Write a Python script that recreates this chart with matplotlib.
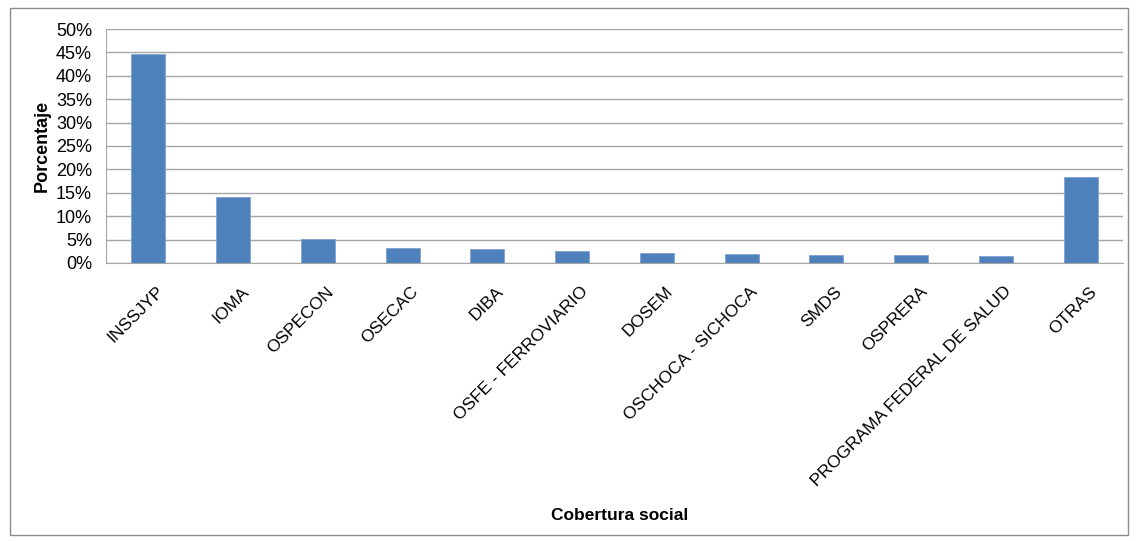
import matplotlib
import matplotlib.pyplot as plt
from matplotlib.ticker import PercentFormatter
from matplotlib.patches import Rectangle
import matplotlib.transforms as mtransforms
matplotlib.use('Agg')

plt.rcParams['font.family'] = ['Liberation Sans', 'DejaVu Sans']

# data
categories = ['INSSJYP', 'IOMA', 'OSPECON', 'OSECAC', 'DIBA', 'OSFE - FERROVIARIO',
              'DOSEM', 'OSCHOCA - SICHOCA', 'SMDS', 'OSPRERA',
              'PROGRAMA FEDERAL DE SALUD', 'OTRAS']
porcentajes = [44.7, 14.2, 5.1, 3.1, 2.9, 2.6, 2.1, 1.9, 1.8, 1.8, 1.6, 18.4]
y_ticks = [0, 5, 10, 15, 20, 25, 30, 35, 40, 45, 50]

bar_color = '#4F81BD'
grid_color = '#A6A6A6'

fig = plt.figure(figsize=(11.38, 5.41), dpi=100, facecolor='w')
ax = fig.add_axes([106 / 1138, 1 - 263 / 541, (1123 - 106) / 1138, (263 - 29) / 541])

x = list(range(len(categories)))
ax.bar(x, porcentajes, width=0.4, color=bar_color, edgecolor='#7FA3D1', linewidth=0.6, zorder=3)

ax.set_xlim(-0.5, len(categories) - 0.5)
ax.set_ylim(0, 50)
ax.set_yticks(y_ticks)
ax.yaxis.set_major_formatter(PercentFormatter(decimals=0))
ax.grid(axis='y', color=grid_color, linewidth=1, zorder=1)
ax.set_axisbelow(True)

for side in ['top', 'right']:
    ax.spines[side].set_visible(False)
ax.spines['left'].set_color(grid_color)
ax.spines['bottom'].set_color(grid_color)

ax.tick_params(axis='y', length=0, labelsize=13, pad=10)
ax.tick_params(axis='x', length=0, labelsize=12.5, pad=15)

ax.set_xticks(x)
ax.set_xticklabels(categories, rotation=45, ha='right', rotation_mode='anchor')
offset = mtransforms.ScaledTranslation(0.08, 0, fig.dpi_scale_trans)
for lbl in ax.get_xticklabels():
    lbl.set_transform(lbl.get_transform() + offset)

fig.text(42 / 1138, 1 - 146 / 541, 'Porcentaje', rotation=90, ha='center', va='center',
         fontsize=13, fontweight='bold')
fig.text(620 / 1138, 1 - 516 / 541, 'Cobertura social', ha='center', va='center',
         fontsize=12.5, fontweight='bold')

fig.patches.append(Rectangle((10 / 1138, 1 - 535 / 541), 1118 / 1138, 527 / 541,
                             transform=fig.transFigure, fill=False,
                             edgecolor='#8C8C8C', linewidth=1))

fig.savefig('out.png', dpi=100, facecolor='w')
plt.close(fig)
